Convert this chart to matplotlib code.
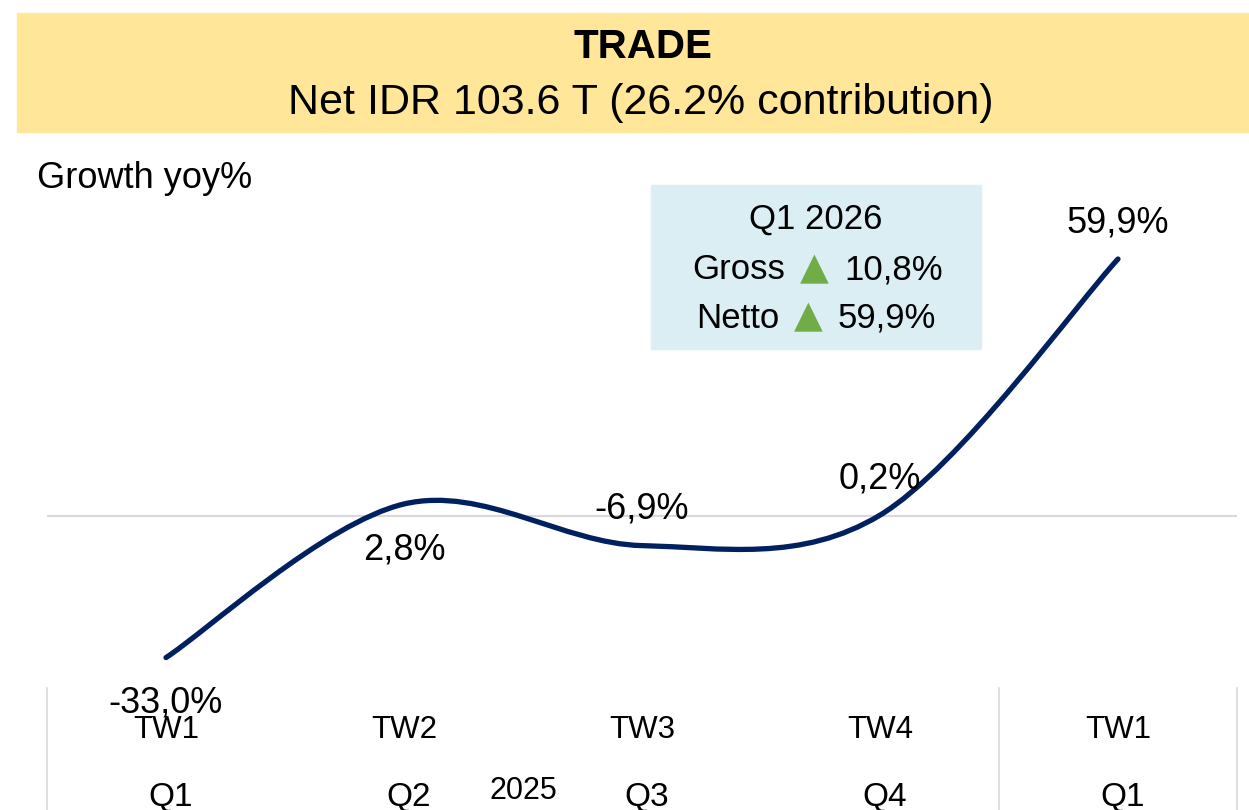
import matplotlib
matplotlib.use("Agg")
from matplotlib import pyplot as plt
from matplotlib import font_manager
from matplotlib.path import Path
from matplotlib.patches import PathPatch, Rectangle
from matplotlib.transforms import blended_transform_factory

# data
quarters = ["TW1", "TW2", "TW3", "TW4", "TW1"]
q_labels = ["Q1", "Q2", "Q3", "Q4", "Q1"]
growth = [-33.0, 2.8, -6.9, 0.2, 59.9]
growth_text = ["-33,0%", "2,8%", "-6,9%", "0,2%", "59,9%"]
label_side = [-1, -1, 1, 1, 1]   # -1 below the point, 1 above
year_label = "2025"
box_lines = ["Q1 2026", ("Gross", "10,8%"), ("Netto", "59,9%")]

names = {f.name for f in font_manager.fontManager.ttflist}
font = "Liberation Sans Narrow" if "Liberation Sans Narrow" in names else "Liberation Sans"
plt.rcParams["font.family"] = [font, "DejaVu Sans"]

W, H = 1249, 810
fig = plt.figure(figsize=(W / 100, H / 100), dpi=100)

def fx(px):
    return px / W

def fy(py):
    return 1 - py / H

# title banner
fig.patches.append(Rectangle((fx(17), fy(132)), fx(W) - fx(17), fy(13) - fy(132),
                             transform=fig.transFigure, color="#FFE699", zorder=0))
fig.text(fx(643), fy(47), "TRADE", ha="center", va="center", fontsize=29, fontweight="bold")
fig.text(fx(641), fy(103), "Net IDR 103.6 T (26.2% contribution)", ha="center", va="center", fontsize=31)
fig.text(fx(37), fy(178), "Growth yoy%", ha="left", va="center", fontsize=26)

# plot area
ax_top, ax_bot = 140, 688
ax = fig.add_axes([fx(47), fy(ax_bot), fx(1237) - fx(47), fy(ax_top) - fy(ax_bot)])
ax.set_xlim(-0.5, 4.5)
scale = 4.29
ax.set_ylim((516 - ax_bot) / scale, (516 - ax_top) / scale)
ax.axis("off")
ax.axhline(0, color="#D9D9D9", lw=1.5, zorder=1)

# smoothed line (Excel style bezier through the points)
xs = list(range(len(growth)))
pts = list(zip(xs, growth))
verts = [pts[0]]
codes = [Path.MOVETO]
for i in range(len(pts) - 1):
    p0 = pts[i - 1] if i > 0 else pts[i]
    p1 = pts[i]
    p2 = pts[i + 1]
    p3 = pts[i + 2] if i + 2 < len(pts) else pts[i + 1]
    c1 = (p1[0] + (p2[0] - p0[0]) / 6, p1[1] + (p2[1] - p0[1]) / 6)
    c2 = (p2[0] - (p3[0] - p1[0]) / 6, p2[1] - (p3[1] - p1[1]) / 6)
    verts += [c1, c2, p2]
    codes += [Path.CURVE4] * 3
ax.add_patch(PathPatch(Path(verts, codes), facecolor="none", edgecolor="#002060",
                       lw=3.8, capstyle="round", zorder=3))

for x, y, t, s in zip(xs, growth, growth_text, label_side):
    off = 26 if s > 0 else -33
    ax.annotate(t, (x, y), xytext=(0, off), textcoords="offset points",
                ha="center", va="center", fontsize=26, annotation_clip=False, zorder=4)

# category axis below the plot
bt = blended_transform_factory(ax.transData, fig.transFigure)
for xv in [-0.5, 3.5, 4.5]:
    ax.plot([xv, xv], [fy(688), 0], transform=bt, color="#D9D9D9", lw=1.2, clip_on=False)
for x, t, q in zip(xs, quarters, q_labels):
    ax.text(x, fy(730), t, transform=bt, ha="center", va="center", fontsize=22.5)
    ax.text(x + 0.02, fy(806), q, transform=bt, ha="center", va="baseline", fontsize=24)
ax.text(1.5, fy(791), year_label, transform=bt, ha="center", va="center", fontsize=22)

# summary box
fig.patches.append(Rectangle((fx(651), fy(349)), fx(981) - fx(651), fy(185) - fy(349),
                             transform=fig.transFigure, color="#DAEEF3", zorder=0))
fig.text(fx(816), fy(219), box_lines[0], ha="center", va="center", fontsize=25)
for (lab, val), py, tri_x in zip(box_lines[1:], [270, 318], [814, 808]):
    fig.text(fx(tri_x - 29), fy(py), lab, ha="right", va="center", fontsize=25)
    fig.text(fx(tri_x), fy(py - 1), "\u25B2", ha="center", va="center", fontsize=27,
             color="#70AD47", family="DejaVu Sans")
    fig.text(fx(tri_x + 30), fy(py), val, ha="left", va="center", fontsize=25)

fig.savefig("out.png", dpi=100)
